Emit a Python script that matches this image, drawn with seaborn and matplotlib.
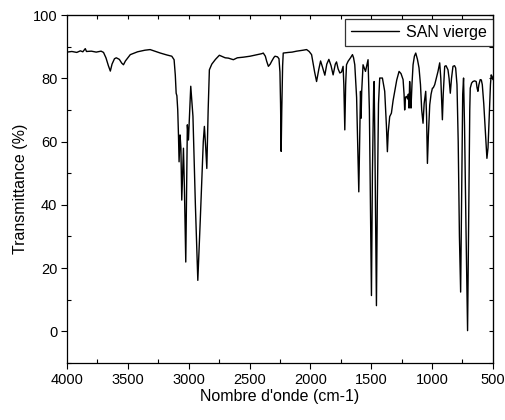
import numpy as np
import pandas as pd
import seaborn as sns
import matplotlib.pyplot as plt
from matplotlib.ticker import MultipleLocator

# Spectre IR du SAN vierge
nombre_onde = [
    4000, 3960, 3920, 3890, 3870, 3850, 3840, 3800, 3760, 3720, 3700, 3680, 3660, 3644,
    3630, 3610, 3595, 3570, 3550, 3536, 3520, 3480, 3420, 3360, 3317, 3280, 3233, 3180,
    3139, 3120, 3110, 3103, 3097, 3090, 3084, 3079, 3071, 3064, 3057, 3043, 3035, 3024,
    3011, 3002, 2983, 2965, 2945, 2925, 2905, 2892, 2880, 2871, 2860, 2851, 2840, 2830,
    2810, 2780, 2748, 2700, 2674, 2633, 2600, 2550, 2496, 2450, 2400, 2387, 2370, 2359,
    2345, 2330, 2318, 2300, 2291, 2270, 2258, 2250, 2245, 2240, 2235, 2228, 2223, 2180,
    2150, 2113, 2060, 2031, 2010, 1990, 1965, 1949, 1930, 1916, 1900, 1881, 1865, 1848,
    1830, 1813, 1795, 1785, 1772, 1758, 1744, 1731, 1725, 1717, 1710, 1703, 1690, 1670,
    1654, 1645, 1635, 1620, 1610, 1602, 1595, 1588, 1585, 1583, 1578, 1567, 1547, 1526,
    1515, 1505, 1498, 1490, 1480, 1476, 1470, 1463, 1457, 1450, 1440, 1430, 1408, 1389,
    1375, 1367, 1360, 1348, 1334, 1320, 1307, 1290, 1271, 1255, 1238, 1230, 1225, 1218,
    1211, 1200, 1195, 1189, 1184, 1178, 1173, 1165, 1156, 1145, 1134, 1120, 1107, 1095,
    1085, 1074, 1065, 1052, 1045, 1038, 1030, 1019, 1008, 997, 990, 978, 965, 951,
    937, 928, 920, 915, 908, 896, 885, 869, 860, 850, 840, 828, 815, 806,
    795, 785, 775, 765, 755, 748, 741, 733, 720, 708, 698, 690, 686, 675,
    664, 650, 637, 630, 623, 615, 604, 595, 587, 575, 560, 549, 540, 530,
    520, 514, 505, 500,
]
transmittance = [
    88.3, 88.5, 88.2, 88.7, 88.4, 89.4, 88.5, 88.6, 88.3, 88.6, 88.2, 86.5, 84.0, 82.3,
    84.5, 86.2, 86.5, 86.0, 84.8, 84.3, 85.5, 87.5, 88.4, 88.9, 89.1, 88.6, 88.0, 87.4,
    87.0, 85.9, 81.0, 75.3, 74.5, 70.0, 62.1, 53.6, 62.1, 58.0, 41.5, 57.9, 45.0, 21.9,
    65.3, 60.5, 77.5, 68.0, 40.0, 16.1, 35.0, 48.3, 60.0, 64.8, 58.0, 51.5, 70.0, 82.7,
    84.5, 86.0, 87.3, 86.5, 86.4, 85.9, 86.5, 86.7, 87.0, 87.4, 87.8, 88.0, 87.0, 85.4,
    83.8, 84.5, 85.4, 86.6, 87.0, 86.8, 86.2, 82.0, 72.0, 56.9, 70.0, 84.0, 88.0, 88.2,
    88.3, 88.6, 88.9, 89.1, 88.5, 87.5, 82.0, 79.0, 83.0, 85.5, 83.5, 81.0, 84.5, 86.0,
    84.0, 81.1, 84.5, 85.2, 83.0, 81.7, 82.0, 83.8, 78.0, 63.7, 78.0, 84.3, 85.4, 86.5,
    87.5, 86.5, 84.3, 74.0, 58.0, 44.1, 60.0, 75.9, 72.0, 67.4, 76.0, 84.3, 82.2, 85.9,
    70.0, 35.0, 11.3, 50.0, 76.0, 79.0, 60.0, 30.0, 8.1, 40.0, 72.0, 80.1, 80.1, 75.9,
    65.0, 56.8, 63.0, 67.9, 69.0, 73.0, 75.9, 79.5, 82.2, 81.5, 79.6, 75.0, 70.0, 74.0,
    74.3, 73.5, 75.0, 70.6, 79.0, 74.0, 70.6, 78.0, 84.3, 87.0, 88.0, 86.0, 83.3, 78.0,
    70.0, 65.8, 72.0, 75.9, 68.0, 53.1, 62.0, 71.6, 75.0, 76.9, 77.0, 78.0, 80.0, 82.2,
    84.9, 80.0, 72.0, 66.9, 75.0, 83.8, 84.0, 82.7, 80.0, 75.3, 80.0, 83.8, 84.0, 83.3,
    78.0, 60.0, 30.0, 12.4, 50.0, 75.0, 80.1, 65.0, 30.0, 0.2, 40.0, 70.0, 76.9, 78.5,
    79.0, 79.2, 79.0, 77.0, 75.9, 78.0, 79.6, 79.5, 78.0, 72.0, 62.0, 54.7, 58.0, 68.0,
    78.0, 81.1, 80.5, 79.6,
]
nom_serie = "SAN vierge"

df = pd.DataFrame({"Nombre_onde": nombre_onde, "Transmittance": transmittance,
                   "Echantillon": nom_serie})

sns.set_style("ticks")
plt.rcParams["font.family"] = ["Liberation Sans", "DejaVu Sans"]
plt.rcParams["text.color"] = "black"
plt.rcParams["axes.labelcolor"] = "black"

fig = plt.figure(figsize=(5.05, 4.2), dpi=100)
ax = fig.add_axes([0.1327, 0.136, 0.8433, 0.828])

sns.lineplot(data=df, x="Nombre_onde", y="Transmittance", hue="Echantillon",
             palette=["black"], sort=False, estimator=None, linewidth=1.0, ax=ax)

ax.set_xlim(4000, 500)
ax.set_ylim(-10, 100)
ax.set_xticks(np.arange(4000, 499, -500))
ax.set_yticks(np.arange(0, 101, 20))
ax.xaxis.set_minor_locator(MultipleLocator(250))
ax.yaxis.set_minor_locator(MultipleLocator(10))
ax.tick_params(which="major", direction="out", length=4, width=0.8,
               labelsize=10.5, colors="black", pad=3)
ax.tick_params(which="minor", direction="in", length=3, width=0.8, colors="black")
for s in ax.spines.values():
    s.set_linewidth(0.9)
    s.set_color("black")

# graduations internes en haut et a droite
haut = ax.secondary_xaxis("top")
haut.set_xticks(np.arange(4000, 499, -250))
haut.tick_params(direction="in", length=3, width=0.8, labeltop=False, colors="black")
droite = ax.secondary_yaxis("right")
droite.set_yticks(np.arange(-10, 101, 10))
droite.tick_params(direction="in", length=3, width=0.8, labelright=False, colors="black")

ax.set_xlabel("Nombre d'onde (cm-1)", fontsize=11.5, labelpad=2, color="black")
ax.set_ylabel("Transmittance (%)", fontsize=11.5, labelpad=3, color="black")

leg = ax.legend(loc="upper right", bbox_to_anchor=(1.0, 0.99), fontsize=11.5,
                frameon=True, fancybox=False, borderaxespad=0, handlelength=3.0,
                handletextpad=0.45, borderpad=0.38, labelcolor="black")
leg.get_frame().set_edgecolor("black")
leg.get_frame().set_linewidth(0.9)

fig.savefig("out.png", dpi=100)
plt.close(fig)
